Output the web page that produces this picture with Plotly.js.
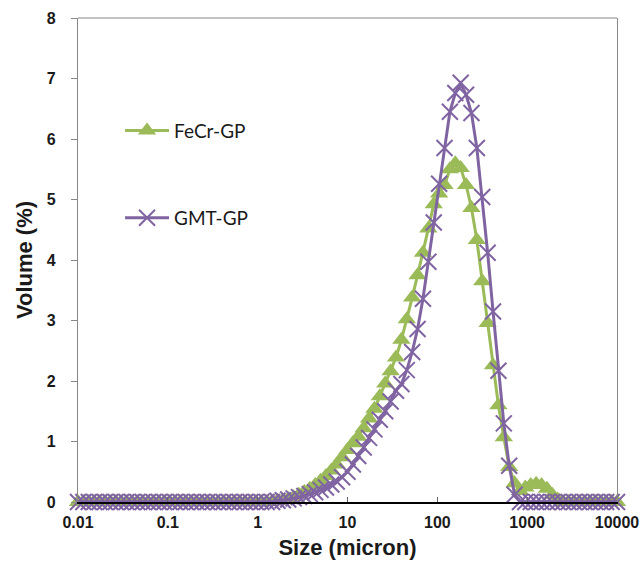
<!DOCTYPE html>
<html>
<head>
<meta charset="utf-8">
<script src="https://cdn.plot.ly/plotly-3.0.1.min.js"></script>
<style>html,body{margin:0;padding:0;background:#fff;}#chart{width:642px;height:563px;}</style>
</head>
<body>
<div id="chart"></div>
<script>
// Particle size classes (micron)
const sizeMicron = [
  0.01,0.01148,0.01318,0.01514,0.01738,0.01995,0.02291,0.0263,0.0302,0.03467,0.03981,0.04571,0.05248,0.06026,0.06918,0.07943,0.0912,
  0.1047,0.1202,0.138,0.1585,0.182,0.2089,0.2399,0.2754,0.3162,0.3631,0.4169,0.4786,0.5495,0.631,0.7244,0.8318,0.955,
  1.096,1.259,1.445,1.66,1.905,2.188,2.512,2.884,3.311,3.802,4.365,5.012,5.754,6.607,7.586,8.71,
  10,11.48,13.18,15.14,17.38,19.95,22.91,26.3,30.2,34.67,39.81,45.71,52.48,60.26,69.18,79.43,91.2,
  104.7,120.2,138,158.5,182,208.9,239.9,275.4,316.2,363.1,416.9,478.6,549.5,631,724.4,831.8,955,
  1096,1259,1445,1660,1905,2188,2512,2884,3311,3802,4365,5012,5754,6607,7586,8710,10000
];
// Volume (%) – FeCr-GP
const fecrGP = [
  0,0,0,0,0,0,0,0,0,0,0,0,0,0,0,0,0,
  0,0,0,0,0,0,0,0,0,0,0,0,0,0,0,0,0,
  0,0,0.01,0.02,0.03,0.05,0.08,0.12,0.17,0.22,0.28,0.35,0.43,0.52,0.62,0.74,
  0.86,0.97,1.08,1.22,1.38,1.54,1.75,1.96,2.16,2.39,2.68,3.02,3.38,3.75,4.12,4.52,4.92,
  5.1,5.24,5.5,5.6,5.52,5.24,4.86,4.33,3.65,2.96,2.26,1.6,1.07,0.58,0.31,0.18,0.24,
  0.28,0.3,0.28,0.22,0.12,0.04,0,0,0,0,0,0,0,0,0,0,0
];
// Volume (%) – GMT-GP
const gmtGP = [
  0,0,0,0,0,0,0,0,0,0,0,0,0,0,0,0,0,
  0,0,0,0,0,0,0,0,0,0,0,0,0,0,0,0,0,
  0,0,0,0.02,0.03,0.04,0.06,0.08,0.1,0.13,0.16,0.2,0.24,0.29,0.34,0.41,
  0.5,0.62,0.76,0.9,1.06,1.2,1.36,1.5,1.66,1.84,1.95,2.18,2.48,2.86,3.36,3.97,4.62,
  5.26,5.85,6.45,6.76,6.93,6.73,6.43,5.85,5.04,4.12,3.15,2.17,1.3,0.6,0.12,0,0,
  0,0,0,0,0,0,0,0,0,0,0,0,0,0,0,0,0
];
const xTickVals = [0.01,0.1,1,10,100,1000,10000];
const xTickText = ['0.01','0.1','1','10','100','1000','10000'];
const yTickVals = [0,1,2,3,4,5,6,7,8];

const green = '#9BBB59', purple = '#8064A2';
const boldFont = {family:'Liberation Sans, Arial, sans-serif', size:16, color:'#1a1a1a', weight:'bold'};

const traces = [
  {x:sizeMicron, y:fecrGP, name:'FeCr-GP', type:'scatter', mode:'lines+markers', cliponaxis:false,
   line:{color:green, width:3}, marker:{symbol:'triangle-up', size:16, color:green}, legend:'legend'},
  {x:sizeMicron, y:gmtGP, name:'GMT-GP', type:'scatter', mode:'lines+markers', cliponaxis:false,
   line:{color:purple, width:3}, marker:{symbol:'x-thin', size:16, color:purple, line:{color:purple, width:2}}, legend:'legend2'}
];

const legendFont = {family:'Lato, Open Sans, sans-serif', size:19, color:'#1a1a1a'};
const layout = {
  width:642, height:563,
  margin:{l:78, r:25, t:18, b:61},
  paper_bgcolor:'#fff', plot_bgcolor:'#fff',
  showlegend:true,
  xaxis:{type:'log', range:[-2,4], tickvals:xTickVals, ticktext:xTickText,
    showgrid:false, zeroline:false, showline:true, linecolor:'#000', linewidth:1.5,
    ticks:'inside', ticklen:5, tickcolor:'#666', tickfont:boldFont, ticklabelstandoff:5,
    title:{text:'Size (micron)', font:{family:'Liberation Sans, Arial, sans-serif', size:22, color:'#1a1a1a', weight:'bold'}, standoff:10},
    automargin:false},
  yaxis:{range:[0,8], tickvals:yTickVals, showgrid:false, zeroline:false,
    showline:true, linecolor:'#888', linewidth:1.2, mirror:true,
    ticks:'outside', ticklen:6, tickcolor:'#888', tickfont:boldFont, ticklabelstandoff:12,
    title:{text:'Volume (%)', font:{family:'Liberation Sans, Arial, sans-serif', size:22, color:'#1a1a1a', weight:'bold'}, standoff:8},
    automargin:false},
  shapes:[{type:'line', xref:'paper', yref:'paper', x0:0, x1:1, y0:1, y1:1, line:{color:'#888', width:1.2}}],
  legend:{x:0.078, y:0.767, xanchor:'left', yanchor:'middle', bgcolor:'rgba(0,0,0,0)', font:legendFont, itemwidth:44},
  legend2:{x:0.078, y:0.587, xanchor:'left', yanchor:'middle', bgcolor:'rgba(0,0,0,0)', font:legendFont, itemwidth:44}
};
Plotly.newPlot('chart', traces, layout, {displayModeBar:false, staticPlot:true});
</script>
</body>
</html>
